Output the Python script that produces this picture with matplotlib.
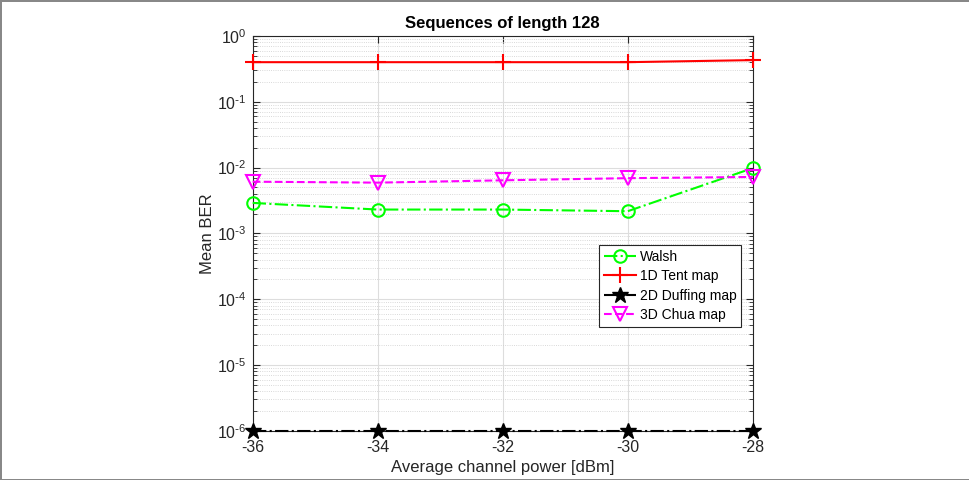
import numpy as np
import matplotlib
matplotlib.use("Agg")
import matplotlib.pyplot as plt
from matplotlib.ticker import FixedLocator, FuncFormatter, NullFormatter

plt.rcParams['font.family'] = ['Liberation Sans', 'DejaVu Sans']
plt.rcParams['axes.unicode_minus'] = False
plt.rcParams['mathtext.default'] = 'regular'

# Data
power_dbm = [-36, -34, -32, -30, -28]
ber_walsh = [0.0029, 0.0023, 0.0023, 0.00217, 0.0098]
ber_tent = [0.40, 0.40, 0.40, 0.40, 0.43]
ber_duffing = [1e-6, 1e-6, 1e-6, 1e-6, 1e-6]
ber_chua = [0.0061, 0.0059, 0.0064, 0.0069, 0.0072]


def decade_label(v, pos):
    e = round(np.log10(v))
    if e < 0:
        return r'$10^{\text{-}%d}$' % (-e)
    return '$10^{%d}$' % e


fig = plt.figure(figsize=(9.7, 4.8), dpi=100)
fig.patch.set_edgecolor('#888888')
fig.patch.set_linewidth(2)
ax = fig.add_axes([0.2605, 0.1027, 0.5155, 0.8223])

common = dict(lw=1.5, clip_on=False, zorder=3)
ax.plot(power_dbm, ber_walsh, color=(0, 1, 0), ls='-.', marker='o',
        ms=9, mfc='none', mew=1.5, label='Walsh', **common)
ax.plot(power_dbm, ber_tent, color=(1, 0, 0), ls='-', marker='+',
        ms=12, mew=1.5, label='1D Tent map', **common)
ax.plot(power_dbm, ber_duffing, color='k', ls='-.', marker='*',
        ms=12, label='2D Duffing map', **common)
ax.plot(power_dbm, ber_chua, color=(1, 0, 1), ls='--', marker='v',
        ms=10, mfc='none', mew=1.5, label='3D Chua map', **common)

ax.set_yscale('log')
ax.set_xlim(-36, -28)
ax.set_ylim(1e-6, 1)
ax.set_xticks(power_dbm)
ax.set_xticklabels([str(p) for p in power_dbm])
ax.yaxis.set_major_locator(FixedLocator([10.0 ** e for e in range(-6, 1)]))
ax.yaxis.set_major_formatter(FuncFormatter(decade_label))
ax.yaxis.set_minor_formatter(NullFormatter())

ax.grid(True, which='major', color='#dddddd', lw=0.8, ls='-')
ax.grid(True, which='minor', color='#cccccc', lw=0.6, ls=':')
ax.set_axisbelow(True)
ax.tick_params(which='both', direction='in', top=True, right=True,
               labelsize=11.5, colors='#262626')
ax.tick_params(axis='x', pad=7)
ax.tick_params(axis='y', pad=4)
ax.tick_params(which='major', length=5)
ax.tick_params(which='minor', length=3)
for sp in ax.spines.values():
    sp.set_color('#262626')
    sp.set_linewidth(0.8)

ax.set_title('Sequences of length 128', fontsize=12, fontweight='bold', pad=6)
ax.set_xlabel('Average channel power [dBm]', fontsize=12, color='#262626',
              labelpad=3)
ax.set_ylabel('Mean BER', fontsize=12, color='#262626', labelpad=2)

leg = ax.legend(loc='upper left', bbox_to_anchor=(0.692, 0.471),
                borderaxespad=0, fontsize=10, fancybox=False,
                framealpha=1, edgecolor='#262626', handlelength=2.3,
                handletextpad=0.3, labelspacing=0.4, borderpad=0.35)
leg.get_frame().set_linewidth(0.8)

fig.savefig('out.png', dpi=100)
